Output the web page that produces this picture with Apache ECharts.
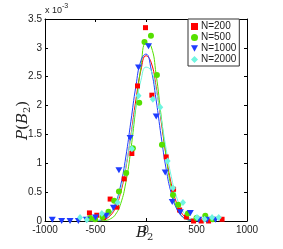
<!DOCTYPE html>
<html><head><meta charset="utf-8">
<script src="https://cdn.jsdelivr.net/npm/echarts@6/dist/echarts.min.js"></script>
<style>html,body{margin:0;padding:0;background:#fff}#c{width:283px;height:249px}</style>
</head><body><div id="c"></div>
<script>
// units of 1e-3 for P(B2)
const seriesNames = ['N=200','N=500','N=1000','N=2000'];
const colors = ['#ff0000','#55e000','#1f3cff','#6ff5e0'];
const xTicks = [-1000,-500,0,500,1000];
const yTicks = [0,0.5,1,1.5,2,2.5,3,3.5];

const pts200 = [[-560,0.14],[-487,0.10],[-420,0.06],[-355,0.38],[-289,0.24],[-216,0.73],[-140,1.17],[-84,2.34],[-5,3.35],[58,2.18],[200,1.11],[273,0.55],[333,0.19],[400,0.07],[471,0.0],[547,0.0],[620,0.0],[753,0.03]];
const pts500 = [[-553,0.05],[-504,0.03],[-430,0.07],[-371,0.16],[-315,0.35],[-268,0.51],[-196,0.83],[-130,1.26],[-67,2.05],[-15,3.10],[49,3.21],[108,2.53],[158,1.32],[267,0.45],[320,0.28],[415,0.13],[500,0.05],[587,0.09],[660,0.03]];
const pts1000 = [[-928,0.02],[-835,0.0],[-752,0.0],[-670,0.0],[-590,0.02],[-500,0.06],[-395,0.09],[-322,0.23],[-268,0.88],[-157,1.44],[-74,2.66],[25,3.03],[101,1.81],[190,0.84],[260,0.33],[340,0.15],[439,0.14],[522,0.02],[605,0.02],[688,0.02]];
const pts2000 = [[-653,0.06],[-586,0.02],[-437,0.13],[-281,0.32],[-140,1.25],[-74,2.17],[68,2.11],[141,1.97],[214,1.04],[267,0.57],[366,0.32],[505,0.06],[580,0.03],[654,0.06],[720,0.06]];

const fitX = [-600,-550,-500,-450,-400,-350,-300,-250,-200,-150,-100,-50,0,50,100,150,200,250,300,350,400,450,500,550,600];
const fit200 = [0.0002,0.0009,0.0034,0.012,0.037,0.100,0.239,0.499,0.917,1.480,2.099,2.615,2.863,2.753,2.328,1.728,1.128,0.646,0.326,0.144,0.056,0.019,0.0057,0.0015,0.0003];
const fit500 = [0.0,0.0001,0.0005,0.0027,0.011,0.039,0.118,0.303,0.663,1.237,1.968,2.667,3.080,3.031,2.542,1.817,1.106,0.574,0.254,0.096,0.031,0.0084,0.002,0.0004,0.0001];
const fit1000 = [0.0003,0.0012,0.0048,0.0167,0.050,0.133,0.309,0.625,1.109,1.721,2.337,2.779,2.892,2.635,2.101,1.466,0.896,0.479,0.224,0.092,0.033,0.0104,0.0028,0.0007,0.0001];
const fit2000 = [0.0005,0.002,0.0068,0.0206,0.0555,0.133,0.287,0.551,0.946,1.452,1.990,2.437,2.666,2.607,2.277,1.778,1.240,0.773,0.430,0.214,0.095,0.038,0.0134,0.0043,0.0012];

const points = [pts200, pts500, pts1000, pts2000];
const fits = [fit200, fit500, fit1000, fit2000];
const symbols = ['rect','circle','path://M0,0 L10,0 L5,9 Z','diamond'];
const symSizes = [[5,5],6,[7,6],[6,7]];

const chart = echarts.init(document.getElementById('c'), null, {renderer:'canvas'});
const font = 'Liberation Sans, Arial, sans-serif';
const axisCommon = {
  axisLine:{show:true,onZero:false,lineStyle:{color:'#000',width:1}},
  axisTick:{show:true,inside:true,length:3,lineStyle:{color:'#000'}},
  splitLine:{show:false}
};
const series = [];
fits.forEach((f,i)=>{
  series.push({type:'line',name:'fit'+i,data:fitX.map((x,k)=>[x,f[k]]),smooth:true,showSymbol:false,
    lineStyle:{color:colors[i],width:1},xAxisIndex:0,yAxisIndex:0,z:2,silent:true});
});
points.forEach((p,i)=>{
  series.push({type:'scatter',name:seriesNames[i],data:p,symbol:symbols[i],symbolSize:symSizes[i],
    itemStyle:{color:colors[i],opacity:1},xAxisIndex:0,yAxisIndex:0,z:3});
});

chart.setOption({
  animation:false,
  backgroundColor:'#fff',
  grid:{left:45,right:36,top:19,bottom:28,containLabel:false},
  xAxis:[
    Object.assign({type:'value',min:-1000,max:1000,interval:500,position:'bottom',
      axisLabel:{color:'#222',fontSize:10,fontFamily:font,margin:4,formatter:v=>String(v)}}, axisCommon),
    Object.assign({type:'value',min:-1000,max:1000,interval:500,position:'top',
      axisLabel:{show:false}}, axisCommon)
  ],
  yAxis:[
    Object.assign({type:'value',min:0,max:3.5,interval:0.5,position:'left',
      axisLabel:{color:'#222',fontSize:10,fontFamily:font,margin:3,formatter:v=>String(v)}}, axisCommon),
    Object.assign({type:'value',min:0,max:3.5,interval:0.5,position:'right',
      axisLabel:{show:false}}, axisCommon)
  ],
  legend:{
    data:seriesNames.map((n,i)=>({name:n,icon:symbols[i]})), orient:'vertical', left:188, top:19,
    backgroundColor:'#fff', borderColor:'#333', borderWidth:1, borderRadius:0,
    padding:[2,3,1,3], itemGap:0, itemWidth:7, itemHeight:7,
    textStyle:{fontSize:10,fontFamily:font,color:'#222',padding:[0,0,0,-2],lineHeight:11}
  },
  graphic:[
    {type:'text',left:45,top:6,style:{text:'x 10',fontSize:9,fontFamily:font,fill:'#222'}},
    {type:'text',left:62,top:3,style:{text:'-3',fontSize:7,fontFamily:font,fill:'#222'}},
    {type:'text',left:136,top:226,style:{rich:{a:{fontSize:15,fontFamily:'DejaVu Serif, serif',fontStyle:'italic',fill:'#222'},b:{fontSize:10,fontFamily:'DejaVu Serif, serif',fill:'#222',padding:[8,0,0,0]}},text:'{a|B}{b|2}'}},
    {type:'text',x:14,y:140,rotation:Math.PI/2,style:{rich:{a:{fontSize:15,fontFamily:'DejaVu Serif, serif',fontStyle:'italic',fill:'#222'},p:{fontSize:15,fontFamily:'DejaVu Serif, serif',fill:'#222'},b:{fontSize:10,fontFamily:'DejaVu Serif, serif',fill:'#222',padding:[8,0,0,0]}},text:'{a|P}{p|(}{a|B}{b|2}{p|)}'}}
  ],
  series:series
});
</script></body></html>
